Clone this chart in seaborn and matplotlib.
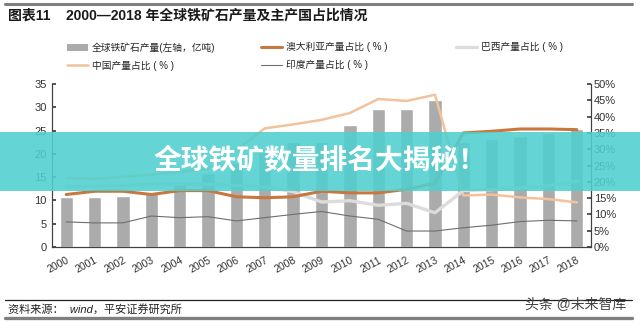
import numpy as np
import pandas as pd
import matplotlib
matplotlib.use("Agg")
import matplotlib.pyplot as plt
from matplotlib.patches import Patch, Rectangle
from matplotlib.lines import Line2D
import seaborn as sns

years = [str(y) for y in range(2000, 2019)]
production = [10.7, 10.7, 11.0, 11.8, 13.5, 15.9, 18.0, 20.4, 22.5, 22.6,
              26.3, 29.6, 29.6, 31.5, 22.6, 23.2, 23.9, 24.5, 25.3]
australia = [16.1, 17.1, 17.1, 16.1, 17.3, 17.3, 15.4, 15.1, 15.4, 17.1,
             16.6, 16.6, 17.7, 19.6, 35.0, 35.5, 36.2, 36.2, 36.0]
china = [21.2, 20.9, 21.5, 22.2, 23.0, 24.0, 29.8, 36.4, 37.6, 39.0,
         41.1, 45.4, 44.8, 46.7, 15.8, 16.1, 15.2, 14.7, 13.7]
brazil = [18.5, 18.6, 18.9, 19.2, 19.4, 19.2, 18.9, 18.4, 17.0, 13.8,
          14.2, 12.8, 13.4, 10.5, 17.3, 17.6, 18.1, 18.8, 20.2]
india = [7.7, 7.4, 7.4, 9.5, 9.0, 9.3, 8.0, 9.0, 10.0, 10.9,
         9.5, 8.5, 4.9, 4.9, 5.9, 6.7, 7.8, 8.2, 8.0]

left_ticks = [0, 5, 10, 15, 20, 25, 30, 35]
right_ticks = [0, 5, 10, 15, 20, 25, 30, 35, 40, 45, 50]

title = "图表11    2000—2018 年全球铁矿石产量及主产国占比情况"
banner = "全球铁矿数量排名大揭秘！"
source = "资料来源：  wind，平安证券研究所"
watermark = "头条 @未来智库"
lbl_bar = "全球铁矿石产量(左轴，亿吨)"
lbl_aus = "澳大利亚产量占比 ( % )"
lbl_bra = "巴西产量占比 ( % )"
lbl_chn = "中国产量占比 ( % )"
lbl_ind = "印度产量占比 ( % )"

sns.set_theme(style="white")
plt.rcParams['font.family'] = ['Liberation Sans', 'Noto Sans CJK SC', 'DejaVu Sans']
plt.rcParams['axes.unicode_minus'] = False

c_bar = "#ababab"
c_aus = "#c8773f"
c_chn = "#f3c29b"
c_bra = "#dcdcdc"
c_ind = "#6e6e6e"

W, H = 640, 323
fig = plt.figure(figsize=(6.4, 3.23), dpi=100)
fig.patch.set_facecolor("white")
ax = fig.add_axes([52 / W, 1 - 247 / H, (591 - 52) / W, (247 - 84) / H])

df = pd.DataFrame({"year": years, "prod": production})
sns.barplot(data=df, x="year", y="prod", color=c_bar, saturation=1,
            width=0.47, ax=ax)
ax.set_xlim(-0.5, len(years) - 0.5)
ax.set_ylim(0, 35)
ax.set_yticks(left_ticks)
ax.set_yticklabels([str(t) for t in left_ticks], fontsize=8, color="#333333")
ax.set_xlabel("")
ax.set_ylabel("")
ax.set_xticks(range(len(years)))
ax.set_xticklabels(years, rotation=28, ha="right", rotation_mode="anchor",
                   fontsize=7.5, color="#333333")
ax.set_xticks(np.arange(-0.5, len(years), 1), minor=True)
ax.tick_params(axis="x", which="major", length=0, pad=6)
ax.tick_params(axis="x", which="minor", length=3, direction="in", color="#404040")
ax.tick_params(axis="y", length=3, direction="in", color="#404040", pad=4)
for s in ["left", "bottom", "right"]:
    ax.spines[s].set_color("#404040")
    ax.spines[s].set_linewidth(0.8)
ax.spines["top"].set_visible(False)
ax.grid(False)

ax2 = ax.twinx()
pos = np.arange(len(years))
sns.lineplot(x=pos, y=china, ax=ax2, color=c_chn, linewidth=1.8)
sns.lineplot(x=pos, y=brazil, ax=ax2, color=c_bra, linewidth=2.4)
sns.lineplot(x=pos, y=australia, ax=ax2, color=c_aus, linewidth=2.2)
sns.lineplot(x=pos, y=india, ax=ax2, color=c_ind, linewidth=0.8)
ax2.set_ylim(0, 50)
ax2.set_xlim(-0.5, len(years) - 0.5)
ax2.set_yticks(right_ticks)
ax2.set_yticklabels([f"{t}%" for t in right_ticks], fontsize=8, color="#333333")
ax2.tick_params(axis="y", length=3, direction="in", color="#404040", pad=2)
ax2.set_ylabel("")
for s in ["left", "bottom", "right"]:
    ax2.spines[s].set_color("#404040")
    ax2.spines[s].set_linewidth(0.8)
ax2.spines["top"].set_visible(False)
ax2.grid(False)

# legends
leg_kw = dict(frameon=False, fontsize=7, handlelength=2.2, handletextpad=0.35,
              labelspacing=0.8, borderpad=0, borderaxespad=0, loc="upper left")
h1 = [Patch(facecolor=c_bar, edgecolor="none"),
      Line2D([], [], color=c_chn, lw=1.8)]
fig.legend(h1, [lbl_bar, lbl_chn], bbox_to_anchor=(67 / W, 1 - 42 / H), **leg_kw)
h2 = [Line2D([], [], color=c_aus, lw=2.2),
      Line2D([], [], color=c_ind, lw=0.8)]
fig.legend(h2, [lbl_aus, lbl_ind], bbox_to_anchor=(261 / W, 1 - 42 / H), **leg_kw)
h3 = [Line2D([], [], color=c_bra, lw=2.4)]
fig.legend(h3, [lbl_bra], bbox_to_anchor=(456 / W, 1 - 42 / H), **leg_kw)

# title and decorative lines
fig.add_artist(Line2D([5 / W, 632 / W], [1 - 4 / H, 1 - 4 / H], color="#7f7f7f", lw=2.2))
fig.text(8 / W, 1 - 16 / H, title, fontsize=10, fontweight="bold", va="center", color="#1a1a1a")

fig.add_artist(Line2D([5 / W, 632 / W], [1 - 299.5 / H, 1 - 299.5 / H], color="#222222", lw=0.9))
fig.add_artist(Line2D([5 / W, 632 / W], [1 - 317.5 / H, 1 - 317.5 / H], color="#7f7f7f", lw=2.4))
fig.text(8 / W, 1 - 309 / H, source, fontsize=8, style="italic", va="center", color="#222222")
fig.text(626 / W, 1 - 305 / H, watermark, fontsize=10, ha="right", va="center", color="#444444")

# banner overlay
fig.add_artist(Rectangle((0, 1 - 191 / H), 1, 59 / H, transform=fig.transFigure,
                         facecolor="#4fcfcf", edgecolor="none", alpha=0.88, zorder=10))
fig.text(0.5, 1 - 161 / H, banner, fontsize=20, fontweight="bold", ha="center",
         va="center", color="white", zorder=11)

fig.savefig("out.png", dpi=100, facecolor="white")
